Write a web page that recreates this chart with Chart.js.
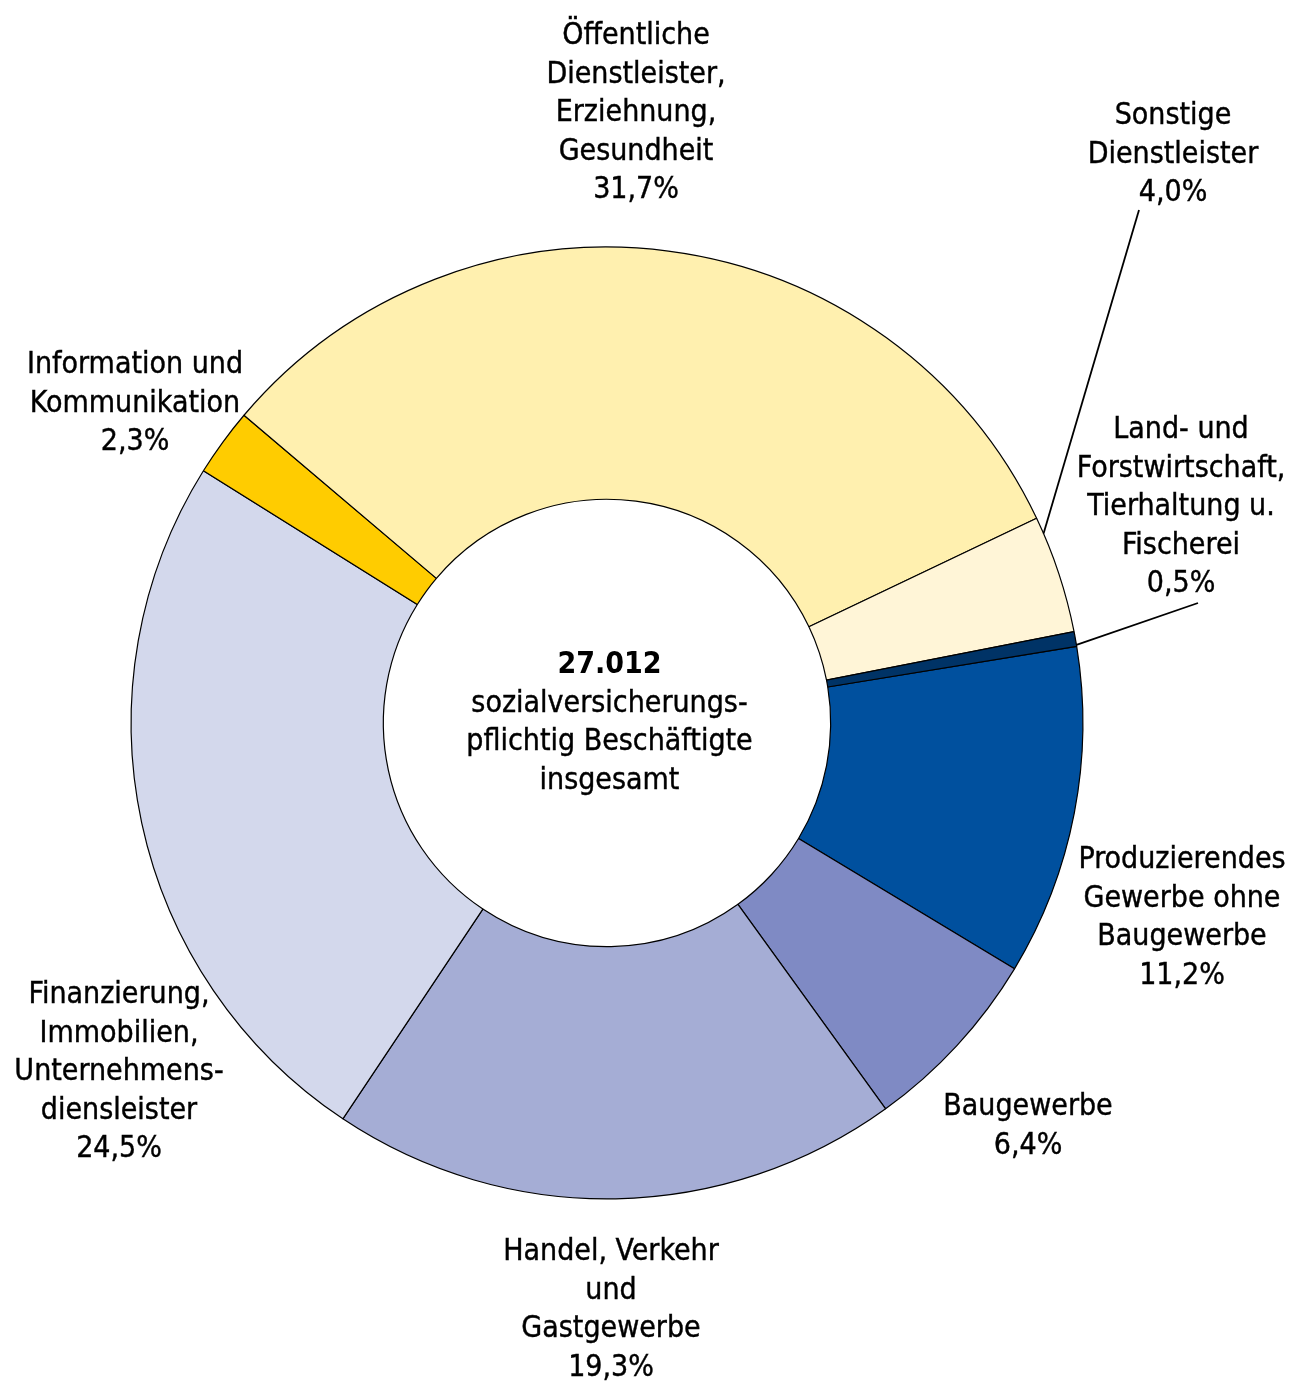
<!DOCTYPE html>
<html lang="de">
<head>
<meta charset="utf-8">
<title>Sozialversicherungspflichtig Beschäftigte</title>
<script src="https://cdn.jsdelivr.net/npm/chart.js@4/dist/chart.umd.min.js"></script>
<style>
    html, body { margin: 0; padding: 0; background: #ffffff; }
    #wrap { width: 1295px; height: 1382px; }
</style>
</head>
<body>
<div id="wrap">
    <canvas id="donut" width="1295" height="1382"></canvas>
</div>
<script>
/* =========================
   DATA
========================= */

const sectors = [
    ["Produzierendes", "Gewerbe ohne", "Baugewerbe"],
    ["Baugewerbe"],
    ["Handel, Verkehr", "und", "Gastgewerbe"],
    ["Finanzierung,", "Immobilien,", "Unternehmens-", "diensleister"],
    ["Information und", "Kommunikation"],
    ["Öffentliche", "Dienstleister,", "Erziehnung,", "Gesundheit"],
    ["Sonstige", "Dienstleister"],
    ["Land- und", "Forstwirtschaft,", "Tierhaltung u.", "Fischerei"]
];

const shares = [11.2, 6.4, 19.3, 24.5, 2.3, 31.7, 4.0, 0.5];

const totalEmployed = "27.012";
const centerLines = ["sozialversicherungs-", "pflichtig Beschäftigte", "insgesamt"];

/* =========================
   STYLE / LAYOUT
========================= */

const sliceColors = [
    "#00509e", "#7f8ac4", "#a5add5", "#d3d8ec",
    "#ffcc00", "#fff0af", "#fff5d7", "#003366"
];

const FONT = '"DejaVu Sans Condensed", "DejaVu Sans", Tahoma, sans-serif';
const FONT_SIZE = 30;
const LINE_H = 38.5;

// first baseline of each label, relative to the chart centre
const labelOffsets = [
    [575, 145], [421, 392], [4, 537], [-488, 280],
    [-472, -350], [29, -679], [566, -599], [574, -285]
];

// leader lines: label end (relative to centre) and position along the arc (0..1)
const leaders = {
    6: { from: [532, -513], t: 0.14 },
    7: { from: [591, -120], t: 0.9 }
};

function pct(v) {
    return v.toFixed(1).replace(".", ",") + "%";
}

/* =========================
   LABEL PLUGIN
========================= */

const labelPlugin = {
    id: "outerLabels",
    afterDraw(chart) {
        const ctx = chart.ctx;
        const arcs = chart.getDatasetMeta(0).data;
        const cx = arcs[0].x;
        const cy = arcs[0].y;

        ctx.save();
        ctx.fillStyle = "#000";
        ctx.textAlign = "center";
        ctx.textBaseline = "alphabetic";

        /* ---------- LEADER LINES ---------- */
        ctx.strokeStyle = "#000";
        ctx.lineWidth = 1.8;
        Object.keys(leaders).forEach(k => {
            let a = arcs[k];
            let l = leaders[k];
            let ang = a.startAngle + l.t * (a.endAngle - a.startAngle);
            ctx.beginPath();
            ctx.moveTo(cx + l.from[0], cy + l.from[1]);
            ctx.lineTo(cx + a.outerRadius * Math.cos(ang), cy + a.outerRadius * Math.sin(ang));
            ctx.stroke();
        });

        /* ---------- SECTOR LABELS ---------- */
        ctx.font = FONT_SIZE + "px " + FONT;
        ctx.lineWidth = 0.4;
        sectors.forEach((lines, i) => {
            let all = lines.concat([pct(shares[i])]);
            let x = cx + labelOffsets[i][0];
            let y = cy + labelOffsets[i][1];
            all.forEach((txt, j) => {
                ctx.fillText(txt, x, y + j * LINE_H);
                ctx.strokeText(txt, x, y + j * LINE_H);
            });
        });

        /* ---------- CENTRE TEXT ---------- */
        let y0 = cy - 50;
        ctx.font = "bold " + FONT_SIZE + "px " + FONT;
        ctx.fillText(totalEmployed, cx + 2.5, y0);
        ctx.font = FONT_SIZE + "px " + FONT;
        centerLines.forEach((txt, j) => {
            ctx.fillText(txt, cx + 2.5, y0 + (j + 1) * LINE_H);
            ctx.strokeText(txt, cx + 2.5, y0 + (j + 1) * LINE_H);
        });

        ctx.restore();
    }
};

/* =========================
   CHART
========================= */

new Chart(document.getElementById("donut"), {
    type: "doughnut",
    data: {
        labels: sectors.map(s => s.join(" ")),
        datasets: [{
            data: shares,
            backgroundColor: sliceColors,
            borderColor: "#000000",
            borderWidth: 1.2,
            hoverOffset: 0
        }]
    },
    options: {
        responsive: false,
        animation: false,
        rotation: 80.74,
        cutout: "47%",
        layout: {
            padding: { left: 130.5, right: 211.5, top: 246.5, bottom: 182.5 }
        },
        plugins: {
            legend: { display: false },
            tooltip: { enabled: false }
        },
        events: []
    },
    plugins: [labelPlugin]
});
</script>
</body>
</html>
